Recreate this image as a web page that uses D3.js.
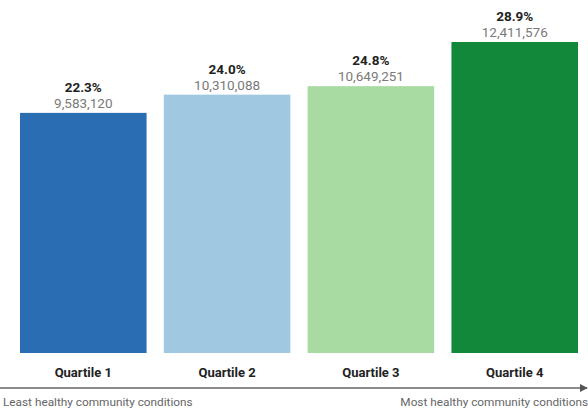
<!DOCTYPE html>
<html lang="en">
<head>
  <meta charset="UTF-8">
  <title>Population by community health quartile</title>
  <script src="https://d3js.org/d3.v7.min.js"></script>
  <style>
    body { margin: 0; background: #fff; }
    svg { display: block; font-family: Roboto, "Noto Sans", sans-serif; }
    .pct { font-size: 13.5px; font-weight: bold; fill: #222; }
    .count { font-size: 13.5px; fill: #7a7a7a; }
    .cat { font-size: 13px; font-weight: bold; fill: #222; }
    .note { font-size: 11.8px; fill: #666; }
  </style>
</head>
<body>
  <svg width="588" height="411"></svg>

  <script>
    const quartiles = ["Quartile 1", "Quartile 2", "Quartile 3", "Quartile 4"];
    const shares = ["22.3%", "24.0%", "24.8%", "28.9%"];
    const counts = [9583120, 10310088, 10649251, 12411576];
    const colors = ["#2a6db3", "#a0c8e0", "#a8dba2", "#12883b"];

    const width = 588;
    const baseY = 353;

    const svg = d3.select("svg");

    const xScale = d3.scaleBand()
      .domain(quartiles)
      .range([20, 578])
      .paddingInner(0.12)
      .paddingOuter(0);

    const yScale = d3.scaleLinear()
      .domain([0, d3.max(counts)])
      .range([baseY, 42]);

    const fmt = d3.format(",");

    const data = quartiles.map((q, i) => ({ q, share: shares[i], count: counts[i], color: colors[i] }));

    svg.selectAll("rect.bar")
      .data(data)
      .enter()
      .append("rect")
      .attr("class", "bar")
      .attr("x", d => xScale(d.q))
      .attr("y", d => yScale(d.count))
      .attr("width", xScale.bandwidth())
      .attr("height", d => baseY - yScale(d.count))
      .attr("fill", d => d.color);

    svg.selectAll("text.pct")
      .data(data)
      .enter()
      .append("text")
      .attr("class", "pct")
      .attr("x", d => xScale(d.q) + xScale.bandwidth() / 2)
      .attr("y", d => yScale(d.count) - 21)
      .attr("text-anchor", "middle")
      .text(d => d.share);

    svg.selectAll("text.count")
      .data(data)
      .enter()
      .append("text")
      .attr("class", "count")
      .attr("x", d => xScale(d.q) + xScale.bandwidth() / 2)
      .attr("y", d => yScale(d.count) - 5)
      .attr("text-anchor", "middle")
      .text(d => fmt(d.count));

    // category labels under the bars
    svg.selectAll("text.cat")
      .data(data)
      .enter()
      .append("text")
      .attr("class", "cat")
      .attr("x", d => xScale(d.q) + xScale.bandwidth() / 2)
      .attr("y", 377)
      .attr("text-anchor", "middle")
      .text(d => d.q);

    // arrow axis
    svg.append("defs").append("marker")
      .attr("id", "arrow")
      .attr("viewBox", "0 0 10 10")
      .attr("refX", 9)
      .attr("refY", 5)
      .attr("markerWidth", 5)
      .attr("markerHeight", 5)
      .attr("orient", "auto")
      .append("path")
      .attr("d", "M0,0L10,5L0,10z")
      .attr("fill", "#555");

    svg.append("line")
      .attr("x1", 0)
      .attr("x2", width - 1)
      .attr("y1", 388)
      .attr("y2", 388)
      .attr("stroke", "#666")
      .attr("stroke-width", 1.6)
      .attr("marker-end", "url(#arrow)");

    svg.append("text")
      .attr("class", "note")
      .attr("x", 3)
      .attr("y", 406)
      .text("Least healthy community conditions");

    svg.append("text")
      .attr("class", "note")
      .attr("x", width)
      .attr("y", 406)
      .attr("text-anchor", "end")
      .text("Most healthy community conditions");
  </script>
</body>
</html>
